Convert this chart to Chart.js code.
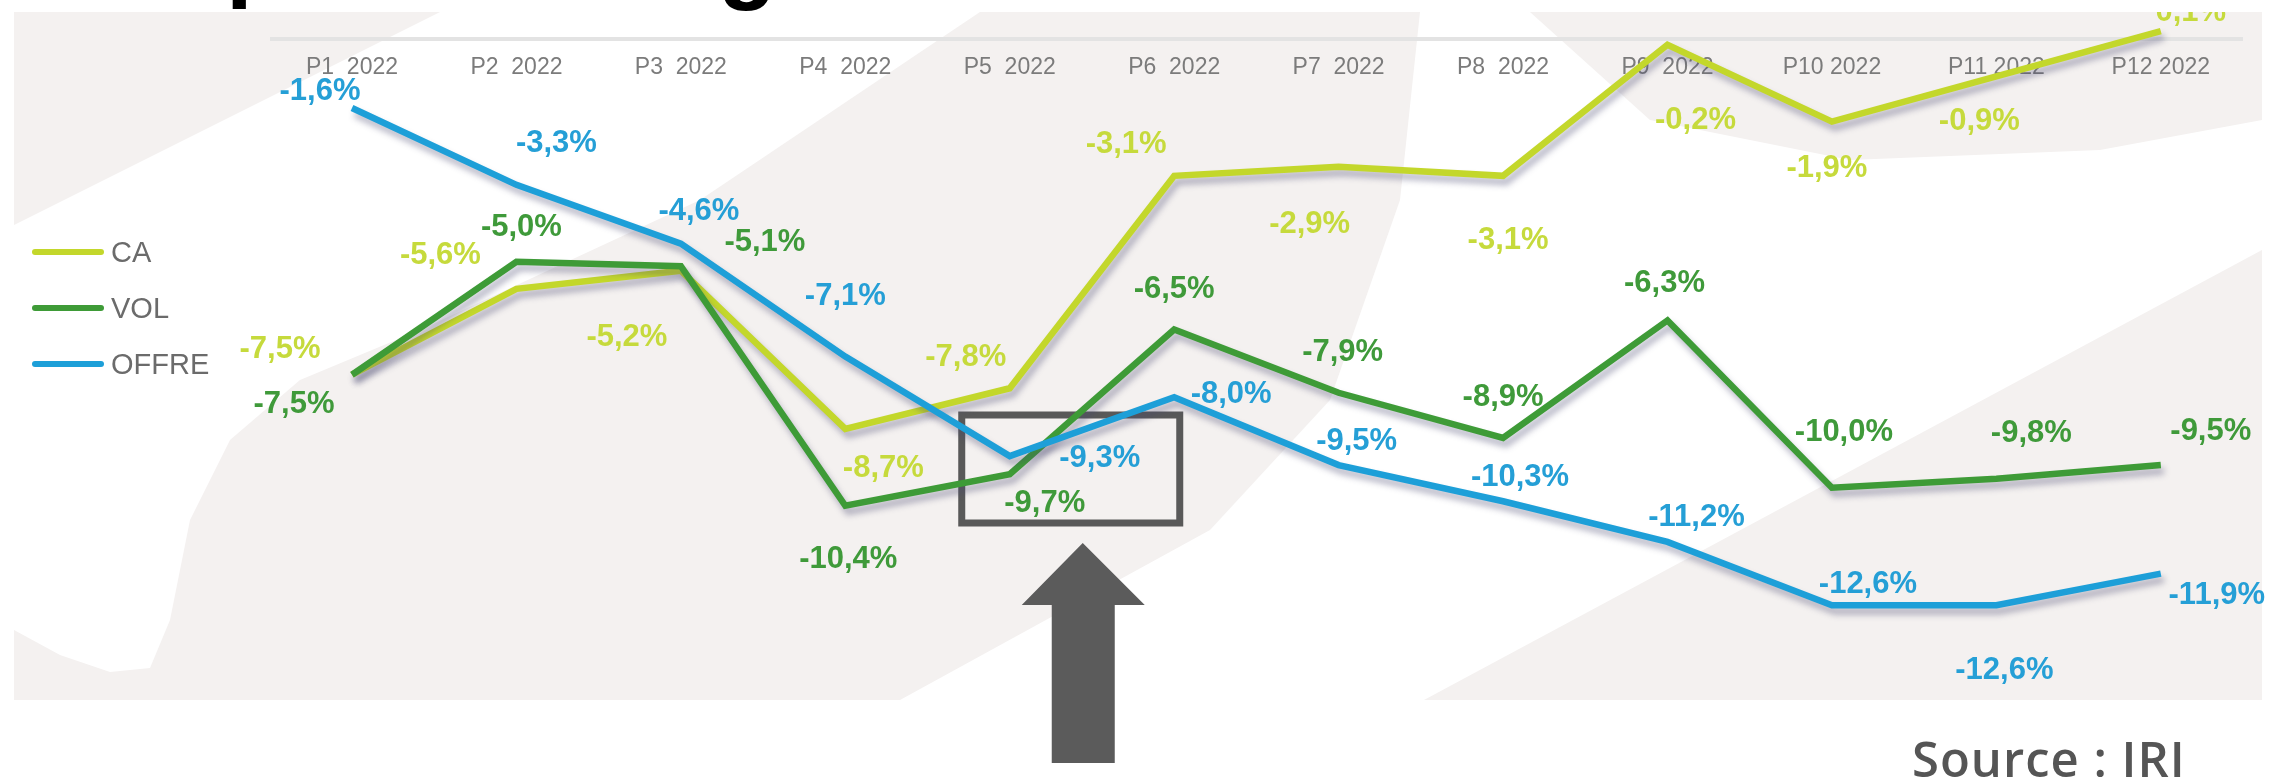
<!DOCTYPE html>
<html>
<head>
<meta charset="utf-8">
<script src="https://cdn.jsdelivr.net/npm/chart.js@4.4.1/dist/chart.umd.min.js"></script>
<style>
  html, body { margin:0; padding:0; background:#ffffff; width:2281px; height:781px; overflow:hidden; position:relative; }
  #title { position:absolute; left:0; top:0; width:2281px; height:12px; overflow:hidden; }
  #title span { position:absolute; font:bold 96px "Liberation Sans", Arial, sans-serif; color:#000; line-height:1; white-space:pre; }
  #wrap { position:absolute; left:0; top:12px; width:2281px; height:769px; }
  #source { position:absolute; left:1912px; top:734px; font:600 49px "Open Sans", "Noto Sans", sans-serif; line-height:1; color:#555555; letter-spacing:1px; white-space:pre; }
</style>
</head>
<body>
<div id="title"><span style="left:-40px;top:-83px">)</span><span style="left:226px;top:-92px">p</span><span style="left:718px;top:-90px">g</span></div>
<div id="wrap"><canvas id="c" width="2281" height="769"></canvas></div>
<div id="source">Source : IRI</div>
<script>
// ---- data ----
const categories = ["P1  2022","P2  2022","P3  2022","P4  2022","P5  2022","P6  2022","P7  2022","P8  2022","P9  2022","P10 2022","P11 2022","P12 2022"];
const seriesNames = ["CA","VOL","OFFRE"];
const caValues    = [-7.5,-5.6,-5.2,-8.7,-7.8,-3.1,-2.9,-3.1,-0.2,-1.9,-0.9,0.1];
const volValues   = [-7.5,-5.0,-5.1,-10.4,-9.7,-6.5,-7.9,-8.9,-6.3,-10.0,-9.8,-9.5];
const offreValues = [-1.6,-3.3,-4.6,-7.1,-9.3,-8.0,-9.5,-10.3,-11.2,-12.6,-12.6,-11.9];

// ---- label placement (pixel offsets from each point) ----
const caLabelOffsets    = [[-72,-25],[-76,-33],[-54,67],[38,40],[-44,-31],[-48,-31],[-29,58],[5,65],[28,76],[-5,47],[-17,45],[30,-19]];
const volLabelOffsets   = [[-58,30],[5,-34],[84,-24],[3,54],[35,29],[0,-40],[4,-40],[0,-41],[-3,-37],[12,-55],[35,-45],[50,-34]];
const offreLabelOffsets = [[-32,-17],[40,-41],[18,-32],[0,-60],[90,2],[57,-3],[18,-24],[17,-24],[29,-24],[36,-21],[8,65],[56,22]];

const lineColors  = ["#c3d72b","#3e9b37","#1d9fd8"];
const labelColors = ["#c6da3c","#3f9a3a","#259fd6"];

function fmt(v){ return v.toFixed(1).replace('.', ',') + '%'; }

function poly(ctx, pts, color){
  ctx.beginPath();
  ctx.moveTo(pts[0][0], pts[0][1] - 12);
  for (let i = 1; i < pts.length; i++) ctx.lineTo(pts[i][0], pts[i][1] - 12);
  ctx.closePath();
  ctx.fillStyle = color;
  ctx.fill();
}

const backgroundPlugin = {
  id: 'bg',
  beforeDraw(chart){
    const ctx = chart.ctx;
    ctx.save();
    poly(ctx, [[14,12],[2262,12],[2262,700],[14,700]], '#f4f1f0');
    poly(ctx, [[440,12],[980,12],[700,200],[420,330],[300,380],[230,440],[190,520],[170,620],[150,668],[110,672],[60,655],[14,630],[14,225]], '#ffffff');
    poly(ctx, [[1420,12],[1530,12],[1650,120],[1850,160],[2100,150],[2262,120],[2262,250],[1424,700],[900,700],[1210,530],[1330,400],[1400,200]], '#ffffff');
    ctx.restore();
  },
  beforeDatasetsDraw(chart){
    const ctx = chart.ctx;
    ctx.save();
    ctx.strokeStyle = '#e3e3e3';
    ctx.lineWidth = 4;
    ctx.beginPath(); ctx.moveTo(270, 27); ctx.lineTo(2243, 27); ctx.stroke();
    const xs = chart.scales.x;
    const cx = xs.getPixelForValue(4);
    ctx.strokeStyle = '#595959';
    ctx.lineWidth = 7;
    ctx.strokeRect(cx - 48, 403, 218, 108);
    ctx.restore();
  },
  afterDatasetsDraw(chart){
    const ctx = chart.ctx;
    const xs = chart.scales.x;
    const cx = xs.getPixelForValue(4) + 73;
    ctx.save();
    ctx.fillStyle = '#5b5b5b';
    ctx.beginPath();
    ctx.moveTo(cx, 531);
    ctx.lineTo(cx + 62, 593);
    ctx.lineTo(cx + 32, 593);
    ctx.lineTo(cx + 32, 751);
    ctx.lineTo(cx - 31, 751);
    ctx.lineTo(cx - 31, 593);
    ctx.lineTo(cx - 61, 593);
    ctx.closePath();
    ctx.fill();

    const offsets = [caLabelOffsets, volLabelOffsets, offreLabelOffsets];
    ctx.font = 'bold 31px "Liberation Sans", Arial, sans-serif';
    ctx.textAlign = 'center';
    ctx.textBaseline = 'middle';
    chart.data.datasets.forEach((ds, di) => {
      const meta = chart.getDatasetMeta(di);
      ctx.fillStyle = labelColors[di];
      meta.data.forEach((pt, i) => {
        const o = offsets[di][i];
        ctx.fillText(fmt(ds.data[i]), pt.x + o[0], pt.y + o[1]);
      });
    });

    ctx.font = '29px "Liberation Sans", Arial, sans-serif';
    ctx.textAlign = 'left';
    chart.data.datasets.forEach((ds, di) => {
      const y = 240 + di * 56;
      ctx.strokeStyle = ds.borderColor;
      ctx.lineWidth = 6;
      ctx.lineCap = 'round';
      ctx.beginPath(); ctx.moveTo(35, y); ctx.lineTo(101, y); ctx.stroke();
      ctx.fillStyle = '#6b6b6b';
      ctx.fillText(ds.label, 111, y + 2);
    });
    ctx.restore();
  }
};

const shadowPlugin = {
  id: 'shadow',
  beforeDatasetDraw(chart){
    const ctx = chart.ctx;
    ctx.save();
    ctx.shadowColor = 'rgba(70,70,110,0.40)';
    ctx.shadowBlur = 6;
    ctx.shadowOffsetX = 3;
    ctx.shadowOffsetY = 6;
  },
  afterDatasetDraw(chart){ chart.ctx.restore(); }
};

const allValues = [caValues, volValues, offreValues];
new Chart(document.getElementById('c'), {
  type: 'line',
  data: {
    labels: categories,
    datasets: allValues.map((vals, i) => ({
      label: seriesNames[i],
      data: vals,
      borderColor: lineColors[i],
      backgroundColor: lineColors[i],
      borderWidth: 6.5,
      pointRadius: 0,
      tension: 0,
      fill: false,
      clip: false,
      order: 3 - i
    }))
  },
  options: {
    responsive: false,
    animation: false,
    events: [],
    layout: { padding: { left: 352, right: 120.2, top: 1.1, bottom: 22.1 } },
    plugins: { legend: { display: false }, tooltip: { enabled: false } },
    scales: {
      x: {
        type: 'category',
        position: { y: 0 },
        offset: false,
        grid: { display: false, drawTicks: false },
        border: { display: false },
        ticks: {
          color: '#7b7b7b',
          font: { family: '"Liberation Sans", Arial, sans-serif', size: 23 },
          padding: 18,
          maxRotation: 0,
          autoSkip: false
        },
        afterFit(scale){ scale.height = 0; }
      },
      y: {
        display: false,
        min: -16,
        max: 0.5
      }
    }
  },
  plugins: [backgroundPlugin, shadowPlugin]
});
</script>
</body>
</html>
